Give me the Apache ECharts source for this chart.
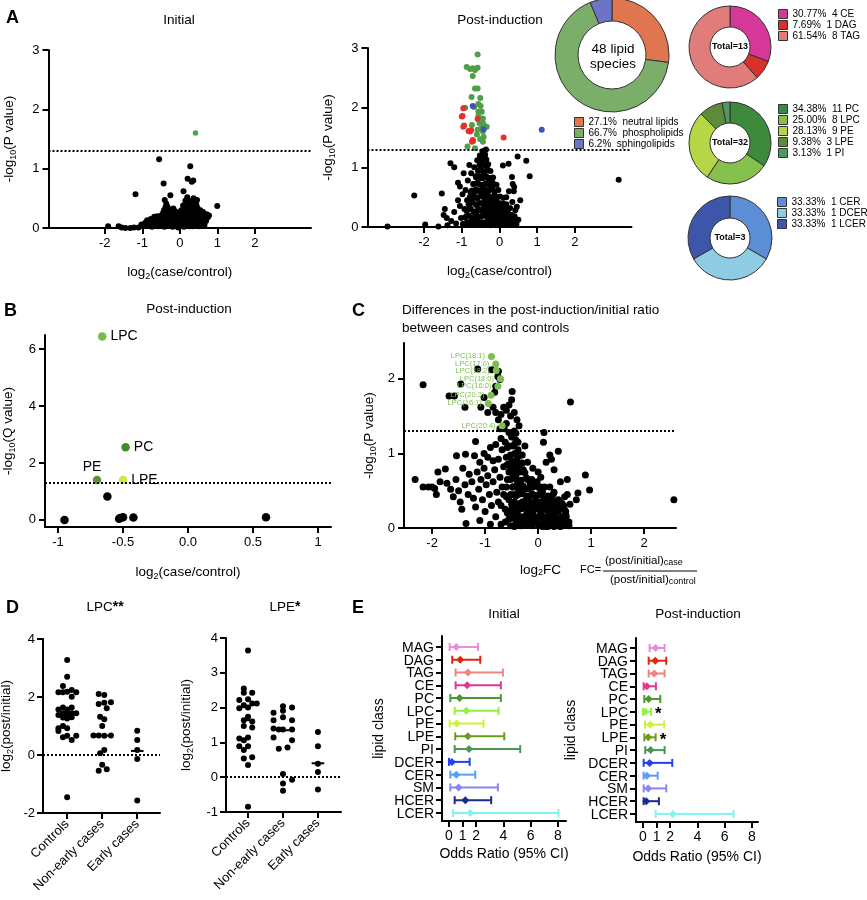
<!DOCTYPE html>
<html>
<head>
<meta charset="utf-8">
<script src="https://cdn.jsdelivr.net/npm/echarts@6/dist/echarts.min.js"></script>
<style>
html, body { margin: 0; padding: 0; background: #fff; }
#chart { width: 867px; height: 900px; }
</style>
</head>
<body>
<div id="chart"></div>
<script>
'use strict';

// ---------- A: volcano plots (log2 FC, -log10 P) ----------
const pThreshold = 1.3;

const initialBlack = [
  [-1.91,0.03],[-1.63,0.03],[-1.55,0.01],[-1.45,0.0],[-1.32,0.0],[-1.22,0.01],[-1.18,0.57],[-1.1,0.01],
  [-1.02,0.06],[-0.97,0.03],[-0.92,0.09],[-0.87,0.13],[-0.84,0.04],[-0.8,0.08],[-0.77,0.15],[-0.74,0.02],
  [-0.72,0.11],[-0.68,0.19],[-0.66,0.06],[-0.62,0.14],[-0.6,0.2],[-0.58,0.03],[-0.55,1.16],[-0.55,0.1],
  [-0.53,0.17],[-0.5,0.05],[-0.48,0.22],[-0.46,0.12],[-0.43,0.75],[-0.42,0.3],[-0.41,0.02],[-0.4,0.47],
  [-0.38,0.18],[-0.37,0.08],[-0.36,0.41],[-0.35,0.27],[-0.33,0.36],[-0.32,0.13],[-0.3,0.04],[-0.28,0.22],
  [-0.27,0.31],[-0.25,0.55],[-0.24,0.1],[-0.22,0.17],[-0.2,0.26],[-0.19,0.02],[-0.17,0.33],[-0.16,0.13],
  [-0.14,0.07],[-0.13,0.21],[-0.11,0.28],[-0.1,0.03],[-0.08,0.15],[-0.07,0.09],[-0.05,0.2],[-0.04,0.01],
  [-0.02,0.12],[0.0,0.25],[0.01,0.05],[0.03,0.17],[0.04,0.3],[0.06,0.09],[0.08,0.21],[0.09,0.38],
  [0.1,0.62],[0.11,0.02],[0.12,0.14],[0.13,0.28],[0.15,0.46],[0.16,0.07],[0.17,0.2],[0.19,0.33],
  [0.2,0.52],[0.21,0.83],[0.22,0.11],[0.23,0.25],[0.24,0.4],[0.26,0.03],[0.27,0.18],[0.28,1.04],
  [0.29,0.31],[0.3,0.45],[0.31,0.12],[0.32,0.78],[0.33,0.24],[0.34,0.37],[0.36,0.8],[0.36,0.06],
  [0.37,0.5],[0.38,0.16],[0.4,0.29],[0.41,0.42],[0.43,0.09],[0.44,0.21],[0.46,0.47],[0.47,0.34],
  [0.49,0.14],[0.5,0.03],[0.52,0.26],[0.54,0.19],[0.56,0.08],[0.58,0.22],[0.6,0.13],[0.62,0.27],
  [0.64,0.17],[0.66,0.05],[0.68,0.2],[0.7,0.12],[0.72,0.23],[0.75,0.18],[0.78,0.21],[1.0,0.37],
  [-0.46,0.06],[-0.37,0.04],[-0.26,0.07],[-0.16,0.04],[-0.06,0.06],[0.04,0.04],[0.14,0.06],[0.24,0.05],
  [0.34,0.03],[0.44,0.05],[0.54,0.04],[0.63,0.07],[-0.43,0.14],[-0.31,0.12],[-0.21,0.14],[-0.11,0.11],
  [-0.01,0.13],[0.07,0.12],[0.18,0.13],[0.27,0.11],[0.37,0.13],[0.47,0.1],[0.57,0.14],[0.67,0.12],
  [-0.39,0.22],[-0.29,0.19],[-0.19,0.21],[-0.09,0.19],[0.02,0.2],[0.11,0.22],[0.21,0.18],[0.31,0.2],
  [0.42,0.22],[0.51,0.19],[0.61,0.21],[0.71,0.18],[-0.33,0.28],[-0.23,0.26],[-0.12,0.25],[0.05,0.27],
  [0.14,0.26],[0.25,0.29],[0.35,0.27],[0.45,0.28],[0.55,0.3],[0.12,0.36],[0.22,0.35],[0.3,0.37],
  [0.39,0.35],[0.44,0.4],[0.26,0.44],[-0.38,0.35],[-0.44,0.26]
];
const initialGreen = [[0.42,1.6]];

const postBlack = [
  [-2.97,0.01],[-2.26,0.53],[-1.97,0.04],[-1.62,0.01],[-1.53,0.56],[-1.45,0.3],[-1.48,0.2],[-1.4,0.15],
  [-1.38,0.03],[-1.3,1.07],[-1.2,1.0],[-1.28,0.1],[-1.2,0.25],[-1.15,0.06],[-1.1,0.74],[-1.05,0.68],
  [-1.1,0.45],[-1.05,0.35],[-1.02,0.15],[-0.98,0.55],[-0.97,0.05],[-0.95,0.9],[-0.93,0.3],[-0.9,0.62],
  [-0.88,0.18],[-0.86,0.45],[-0.84,0.78],[-0.82,0.05],[-0.8,1.04],[-0.79,0.33],[-0.77,0.58],[-0.75,0.9],
  [-0.74,0.12],[-0.72,0.47],[-0.7,0.72],[-0.69,0.25],[-0.67,1.0],[-0.66,0.04],[-0.64,0.6],[-0.63,0.85],
  [-0.62,0.38],[-0.6,0.16],[-0.59,1.12],[-0.58,0.5],[-0.56,0.72],[-0.55,0.28],[-0.54,0.95],[-0.53,0.08],
  [-0.52,1.2],[-0.51,0.62],[-0.5,0.4],[-0.49,0.82],[-0.48,0.18],[-0.47,1.05],[-0.46,0.55],[-0.45,1.27],
  [-0.44,0.3],[-0.43,0.7],[-0.42,0.92],[-0.41,0.05],[-0.4,1.15],[-0.39,0.45],[-0.38,0.62],[-0.37,0.22],
  [-0.36,1.3],[-0.35,0.85],[-0.34,1.02],[-0.33,0.35],[-0.32,0.55],[-0.31,0.12],[-0.3,0.75],[-0.29,0.95],
  [-0.28,0.42],[-0.27,0.25],[-0.26,0.62],[-0.25,0.03],[-0.24,0.82],[-0.22,0.5],[-0.21,0.33],[-0.2,0.15],
  [-0.18,0.68],[-0.17,0.42],[-0.16,0.26],[-0.15,0.05],[-0.13,0.55],[-0.12,0.35],[-0.1,0.18],[-0.08,0.45],
  [-0.07,0.08],[-0.05,0.3],[-0.03,0.22],[-0.01,0.4],[0.0,0.1],[0.02,0.28],[0.04,0.15],[0.06,0.35],
  [0.08,0.05],[0.09,1.03],[0.1,0.22],[0.12,0.3],[0.14,0.12],[0.16,0.18],[0.18,0.5],[0.2,0.08],
  [0.22,0.25],[0.24,1.06],[0.25,0.15],[0.28,0.32],[0.3,0.04],[0.32,0.2],[0.34,0.42],[0.36,0.1],
  [0.38,0.6],[0.4,0.18],[0.42,0.28],[0.45,0.05],[0.48,1.18],[0.5,0.12],[0.71,1.11],[0.8,0.85],
  [0.35,0.72],[0.25,0.6],[0.33,0.84],[0.39,0.67],[0.55,0.45],[0.46,0.34],[0.44,0.11],[3.16,0.79],
  [-0.96,0.04],[-0.86,0.08],[-0.76,0.05],[-0.64,0.09],[-0.54,0.05],[-0.44,0.08],[-0.34,0.05],[-0.24,0.09],
  [-0.14,0.06],[-0.04,0.03],[0.06,0.07],[0.16,0.04],[0.26,0.08],[0.36,0.05],[-0.91,0.16],[-0.81,0.19],
  [-0.71,0.15],[-0.61,0.2],[-0.51,0.17],[-0.41,0.19],[-0.31,0.16],[-0.21,0.2],[-0.11,0.15],[-0.01,0.18],
  [0.09,0.16],[0.19,0.2],[0.29,0.15],[-0.87,0.27],[-0.76,0.3],[-0.66,0.26],[-0.56,0.3],[-0.46,0.27],
  [-0.36,0.3],[-0.26,0.28],[-0.16,0.31],[-0.06,0.26],[0.04,0.29],[0.14,0.27],[0.24,0.3],[-0.82,0.38],
  [-0.72,0.41],[-0.62,0.37],[-0.52,0.4],[-0.42,0.38],[-0.32,0.42],[-0.22,0.39],[-0.12,0.41],[-0.02,0.37],
  [0.08,0.4],[0.18,0.38],[-0.79,0.5],[-0.69,0.52],[-0.59,0.48],[-0.49,0.51],[-0.39,0.49],[-0.29,0.52],
  [-0.19,0.48],[-0.09,0.5],[0.01,0.51],[0.11,0.49],[-0.73,0.61],[-0.63,0.63],[-0.53,0.6],[-0.43,0.62],
  [-0.33,0.6],[-0.23,0.63],[-0.13,0.6],[-0.03,0.62],[-0.68,0.72],[-0.58,0.74],[-0.48,0.71],[-0.38,0.73],
  [-0.28,0.7],[-0.18,0.74],[-0.08,0.71],[-0.62,0.83],[-0.52,0.85],[-0.44,0.82],[-0.36,0.84],[-0.27,0.82],
  [-0.17,0.83],[-0.57,0.94],[-0.49,0.96],[-0.41,0.93],[-0.32,0.95],[-0.24,0.94],[-0.53,1.04],[-0.45,1.06],
  [-0.38,1.03],[-0.3,1.05],[-0.49,1.14],[-0.42,1.16],[-0.35,1.13],[-0.44,1.22],[-0.38,1.21],[-0.4,1.27]
];
const postNeutral = [
  [-0.96,1.99],[-1.0,1.85],[-0.96,1.68],[-0.82,1.61],[-0.78,1.6],[-0.71,1.46],[-0.73,1.43],
  [0.11,1.5],[-0.58,1.81],[-0.75,1.62],[-0.94,1.7],[-0.7,1.44],[-0.98,1.86]
];
const postPhospho = [
  [-0.58,2.89],[-0.87,2.68],[-0.78,2.65],[-0.71,2.66],[-0.65,2.63],[-0.58,2.67],[-0.71,2.53],[-0.65,2.32],
  [-0.58,2.32],[-0.74,2.18],[-0.51,2.16],[-0.91,2.0],[-0.67,2.01],[-0.56,2.06],[-0.5,2.03],[-0.56,1.93],
  [-0.47,1.93],[-0.56,1.85],[-0.44,1.82],[-0.73,1.71],[-0.53,1.74],[-0.43,1.73],[-0.34,1.68],[-0.58,1.63],
  [-0.44,1.6],[-0.42,1.51],[-0.51,1.47],[-0.44,1.43],[-0.85,1.35],[-0.65,1.32],[-0.6,1.55],[-0.48,1.65]
];
const postSphingo = [[-0.71,2.03],[-0.42,1.64],[1.12,1.63]];
const volcanoTicksX = [-2,-1,0,1,2];
const volcanoTicksY = [0,1,2,3];

// ---------- A: donuts ----------
const groupNames = ['neutral lipids','phospholipids','sphingolipids'];
const groupCounts = [13,32,3];
const groupPct = ['27.1%','66.7%','6.2%'];
const groupColors = ['#E07650','#7BAE69','#6C74C6'];

const neutralNames = ['CE','DAG','TAG'];
const neutralCounts = [4,1,8];
const neutralPct = ['30.77%','7.69%','61.54%'];
const neutralColors = ['#D6389A','#D8302A','#E07C7A'];

const phosphoNames = ['PC','LPC','PE','LPE','PI'];
const phosphoCounts = [11,8,9,3,1];
const phosphoPct = ['34.38%','25.00%','28.13%','9.38%','3.13%'];
const phosphoColors = ['#3E8A3D','#86C14B','#B6D547','#5C8C39','#4D9B5A'];

const sphingoNames = ['CER','DCER','LCER'];
const sphingoCounts = [1,1,1];
const sphingoPct = ['33.33%','33.33%','33.33%'];
const sphingoColors = ['#5B8ED4','#8DCCE2','#3E56A9'];

// ---------- B: class-level volcano ----------
const bSigNames = ['LPC','PC','PE','LPE'];
const bSigX = [-0.66,-0.48,-0.7,-0.5];
const bSigY = [6.45,2.55,1.4,1.4];
const bSigColors = ['#78BB4A','#3E8C2A','#5E9034','#C5EC4A'];
const bOther = [[-0.62,0.82],[-0.95,0.0],[-0.53,0.04],[-0.52,0.07],[-0.5,0.09],[-0.42,0.08],[0.6,0.09]];
const bTicksX = [-1,-0.5,0,0.5,1];
const bTickLabelsX = ['-1','-0.5','0.0','0.5','1'];
const bTicksY = [0,2,4,6];

// ---------- C: ratio volcano ----------
const cBlack = [
  [-2.17,1.92],[-1.68,1.77],[-1.58,1.77],[-1.46,1.93],[-1.38,1.62],[-1.14,2.13],[-1.08,1.62],[-1.02,1.75],
  [-0.95,1.55],[-0.88,2.12],[-0.75,2.1],[-0.72,1.99],[-0.76,2.03],[-0.8,1.9],[-0.82,1.82],[-0.85,1.62],
  [-0.8,1.55],[-0.75,1.45],[-0.7,1.52],[-0.65,1.62],[-0.6,1.58],[-0.49,1.83],[-0.5,1.72],[-0.55,1.65],
  [-0.52,1.5],[-0.45,1.55],[-0.4,1.45],[-0.36,1.37],[-0.6,1.4],[-0.64,1.33],[-0.72,1.33],[0.61,1.69],
  [0.11,1.28],[-0.45,1.3],[-0.55,1.28],[-0.5,1.22],[-0.42,1.18],[-0.62,1.15],[-0.7,1.2],[-0.8,1.12],
  [-0.68,1.05],[-0.58,1.08],[-0.48,1.1],[-0.38,1.05],[-0.3,0.98],[-0.25,1.1],[0.1,1.15],[0.22,0.98],
  [0.38,1.03],[0.25,0.92],[0.15,0.88],[0.3,0.78],[-1.18,1.16],[-1.02,1.0],[-0.95,0.95],[-0.9,1.08],
  [-1.2,0.97],[-1.54,0.97],[-1.37,0.99],[-1.1,0.88],[-0.85,0.9],[-0.75,0.92],[-0.6,0.95],[-0.5,0.9],
  [-0.4,0.92],[-0.35,0.85],[-0.2,0.88],[-0.1,0.8],[0.0,0.75],[0.05,0.68],
  [-2.32,0.65],[-2.17,0.55],[-2.07,0.55],[-2.0,0.55],[-1.95,0.53],[-1.89,0.75],[-1.92,0.45],[-1.85,0.62],
  [-1.75,0.79],[-1.72,0.6],[-1.65,0.52],[-1.6,0.42],[-1.55,0.65],[-1.5,0.5],[-1.47,0.35],[-1.44,0.25],
  [-1.42,0.8],[-1.38,0.58],[-1.36,0.06],[-1.32,0.45],[-1.3,0.72],[-1.25,0.62],[-1.22,0.4],[-1.18,0.28],
  [-1.15,0.75],[-1.12,0.52],[-1.1,0.1],[-1.08,0.65],[-1.05,0.38],[-1.02,0.8],[-1.0,0.22],[-0.98,0.58],
  [-0.95,0.7],[-0.92,0.45],[-0.9,0.05],[-0.88,0.3],[-0.85,0.62],[-0.82,0.78],[-0.8,0.15],[-0.78,0.48],
  [-0.75,0.35],[-0.72,0.68],[-0.7,0.05],[-0.68,0.55],[-0.65,0.82],[-0.62,0.25],[-0.6,0.42],[-0.58,0.65],
  [-0.55,0.12],[-0.52,0.78],[-0.5,0.32],[-0.48,0.55],[-0.45,0.02],[-0.42,0.7],[-0.4,0.2],[-0.38,0.45],
  [-0.35,0.62],[-0.32,0.08],[-0.3,0.35],[-0.28,0.78],[-0.25,0.52],[-0.22,0.18],[-0.2,0.65],[-0.18,0.4],
  [-0.15,0.05],[-0.12,0.28],[-0.1,0.55],[-0.08,0.15],[-0.05,0.42],[-0.02,0.62],[0.0,0.25],[0.02,0.05],
  [0.05,0.35],[0.08,0.5],[0.1,0.15],[0.12,0.28],[0.15,0.02],[0.18,0.42],[0.2,0.2],[0.22,0.55],
  [0.25,0.1],[0.28,0.32],[0.3,0.48],[0.32,0.05],[0.35,0.22],[0.38,0.38],[0.4,0.12],[0.42,0.62],
  [0.45,0.28],[0.48,0.05],[0.5,0.42],[0.52,0.18],[0.55,0.65],[0.58,0.08],[0.6,0.32],[0.55,0.45],
  [0.89,0.71],[0.97,0.51],[0.75,0.47],[0.72,0.38],[2.56,0.38],
  [-0.55,0.38],[-0.5,0.18],[-0.45,0.45],[-0.42,0.3],[-0.38,0.12],[-0.35,0.25],[-0.32,0.48],[-0.28,0.15],
  [-0.25,0.3],[-0.22,0.05],[-0.2,0.42],[-0.18,0.22],[-0.15,0.35],[-0.12,0.1],[-0.1,0.45],[-0.08,0.28],
  [-0.05,0.08],[-0.02,0.35],[0.0,0.15],[0.02,0.45],[0.05,0.22],[0.08,0.02],[0.1,0.38],[0.12,0.12],
  [0.15,0.25],[0.18,0.05],[0.2,0.35],[0.22,0.12],[0.25,0.4],[0.28,0.18],[0.3,0.02],[0.32,0.28],
  [0.35,0.1],[0.38,0.22],[0.4,0.35],[0.42,0.02],[0.45,0.15],[0.48,0.3],[0.5,0.08],[0.52,0.22],
  [-0.3,0.55],[-0.15,0.6],[0.05,0.55],[-0.4,0.58],[-0.6,0.55],[-0.65,0.45],[-0.7,0.3],[-0.58,0.2],
  [-0.62,0.08],[-0.48,0.68],[-0.55,0.85],[-0.45,0.8],[-0.35,0.75],
  [-0.52,0.03],[-0.42,0.06],[-0.32,0.03],[-0.22,0.07],[-0.12,0.03],[-0.02,0.06],[0.08,0.08],[0.18,0.02],
  [0.28,0.06],[0.38,0.03],[0.48,0.07],[0.58,0.03],[-0.47,0.13],[-0.37,0.16],[-0.27,0.12],[-0.17,0.15],
  [-0.07,0.12],[0.03,0.16],[0.13,0.13],[0.23,0.16],[0.33,0.14],[0.43,0.12],[0.53,0.15],[-0.5,0.25],
  [-0.4,0.23],[-0.3,0.26],[-0.2,0.24],[-0.1,0.22],[0.0,0.26],[0.1,0.24],[0.2,0.27],[0.3,0.23],
  [0.4,0.26],[0.5,0.24],[-0.45,0.35],[-0.35,0.33],[-0.25,0.36],[-0.15,0.32],[-0.05,0.36],[0.05,0.33],
  [0.15,0.36],[0.25,0.32],[0.35,0.35],[0.45,0.33],[-0.52,0.45],[-0.42,0.43],[-0.32,0.46],[-0.22,0.43],
  [-0.12,0.46],[-0.02,0.44],[0.08,0.46],[0.18,0.43],[0.28,0.45],[-0.48,0.55],[-0.38,0.53],[-0.28,0.56],
  [-0.18,0.53],[-0.08,0.56],[0.02,0.54],[0.12,0.55],[-0.52,0.65],[-0.42,0.66],[-0.32,0.64],[-0.22,0.67],
  [-0.12,0.65],[-0.55,0.75],[-0.45,0.73],[-0.38,0.77],[-0.25,0.74],[-0.58,0.85],[-0.48,0.86],[-0.4,0.84],
  [-0.3,0.87],[-0.52,0.98],[-0.44,1.0],[-0.36,0.97],[-0.55,1.1],[-0.45,1.12],[-0.38,1.15],[-0.5,1.25],
  [-0.42,1.27]
];
const cLpcNames = ['LPC(18:1)','LPC(17:0)','LPC(18:2)','LPC(18:0)','LPC(16:0)','LPC(20:3)','LPC(16:1)','LPC(20:4)'];
const cLpcX = [-0.88,-0.8,-0.79,-0.71,-0.76,-0.89,-0.94,-0.68];
const cLpcY = [2.3,2.2,2.11,2.0,1.9,1.78,1.67,1.37];
const cTicksX = [-2,-1,0,1,2];
const cTicksY = [0,1,2];

// ---------- D: per-group log2(post/initial) ----------
const groups = ['Controls','Non-early cases','Early cases'];
// [group position (index + read offset), value]
const lpcPoints = [
  [0,3.28],[0,2.7],[-0.12,2.38],[-0.25,2.16],[-0.12,2.16],[0,2.18],[0.13,2.24],[0.26,2.16],[0.13,2.01],
  [-0.25,1.57],[-0.12,1.64],[0,1.57],[0.13,1.64],[-0.25,1.38],[-0.12,1.44],[0,1.4],[0.13,1.44],[0.26,1.44],
  [-0.12,1.29],[0,1.26],[0.13,1.3],[-0.25,0.92],[-0.12,1.0],[0,0.92],[-0.25,0.83],[-0.12,0.61],[0,0.66],
  [0.13,0.52],[0.26,0.66],[0,-1.46],
  [0.9,2.1],[1.06,2.07],[0.9,1.76],[1.06,1.8],[1.25,1.82],[1.13,1.61],[0.94,1.32],[1.06,1.23],[1,1.0],
  [0.75,0.67],[0.9,0.67],[1.06,0.66],[1.25,0.67],[1.06,0.17],[0.94,0.06],[1,-0.34],[0.9,-0.54],[1.13,-0.49],
  [2,0.84],[2,0.52],[2,0.17],[2,-0.14],[2,-1.57]
];
const lpcMedians = [1.42,0.67,0.14];
const lpePoints = [
  [0,3.64],[-0.12,2.55],[-0.12,2.43],[0.12,2.43],[-0.25,2.22],[0,2.24],[0.12,2.12],[0.25,2.12],[-0.25,1.98],
  [-0.12,2.07],[0,2.0],[0,1.74],[-0.12,1.64],[0.12,1.6],[-0.12,1.47],[0.12,1.43],[-0.25,1.11],[-0.12,1.06],
  [0,1.14],[-0.25,0.89],[0,0.89],[-0.12,0.78],[-0.12,0.54],[0.12,0.57],[0,0.35],[0,-0.85],
  [1,2.04],[1.26,2.0],[0.73,1.85],[1,1.91],[0.73,1.64],[1,1.72],[1.26,1.64],[0.73,1.4],[0.88,1.37],
  [1,1.37],[1.26,1.37],[0.73,1.14],[1.26,1.06],[0.88,0.82],[1.13,0.85],[1,0.09],[1.26,-0.07],[1,-0.18],[1,-0.39],
  [2,1.3],[2,0.89],[2,0.39],[2,0.15],[2,-0.35]
];
const lpeMedians = [1.64,1.35,0.4];

// ---------- E: odds ratios ----------
const lipidClasses = ['MAG','DAG','TAG','CE','PC','LPC','PE','LPE','PI','DCER','CER','SM','HCER','LCER'];
const classColors = ['#E98CDC','#E5240E','#EE8580','#E3368C','#4B982E','#95F040','#CFF240','#6E9A1F',
  '#4B9657','#2140F6','#5B9DF4','#8686F4','#1B2A8E','#82F2F2'];
const initOR   = [0.54,0.83,1.39,1.34,0.78,1.27,0.56,1.39,1.47,0.22,0.54,0.71,1.2,1.56];
const initLow  = [0.05,0.24,0.49,0.49,0.1,0.42,0.05,0.46,0.42,0.0,0.1,0.1,0.42,0.29];
const initHigh = [2.13,2.3,3.96,3.81,3.81,3.64,2.54,4.06,5.23,1.52,1.93,3.59,3.1,8.04];
const postOR   = [0.93,0.9,0.83,0.29,0.42,0.17,0.54,0.39,0.56,0.49,0.29,0.39,0.24,2.2];
const postLow  = [0.49,0.42,0.42,0.05,0.1,0.0,0.15,0.1,0.17,0.05,0.05,0.05,0.05,0.93];
const postHigh = [1.59,1.71,1.59,0.95,1.27,0.59,1.56,0.93,1.59,2.15,1.08,1.71,1.17,6.65];
const postSignificant = ['LPC','LPE'];
const orTicks = [0,1,2,4,6,8];

// ---------- helpers ----------
const FONT = 'Liberation Sans, Arial, Helvetica, sans-serif';
const subRich = {
  s: {fontSize: 9, lineHeight: 9, verticalAlign: 'bottom', fontFamily: FONT, color: '#000'}
};

function axis(gridIndex, min, max, ticks, o) {
  o = o || {};
  const a = {
    type: 'value', gridIndex: gridIndex, min: min, max: max, inverse: !!o.inverse,
    splitLine: {show: false},
    axisLine: {show: true, onZero: false, lineStyle: {color: '#000', width: 2}},
    axisTick: {show: true, customValues: ticks, length: o.tickLen || 6, lineStyle: {color: '#000', width: 2}},
    axisLabel: {show: o.hideLabels ? false : true, customValues: ticks, color: '#000', fontSize: o.fontSize || 13,
      fontFamily: FONT, margin: o.margin || 9, rotate: o.rotate || 0, showMinLabel: true, showMaxLabel: true},
    name: o.name || '', nameLocation: 'middle', nameGap: o.nameGap || 30,
    nameTextStyle: {color: '#000', fontSize: o.nameSize || 13.5, fontFamily: FONT, lineHeight: 18, rich: subRich}
  };
  if (o.fmt) a.axisLabel.formatter = o.fmt;
  return a;
}

function thresholdLine(y) {
  return {
    silent: true, symbol: 'none', label: {show: false},
    lineStyle: {type: 'dotted', color: '#000', width: 2},
    data: [{yAxis: y}]
  };
}

function dots(xi, yi, data, color, size, extra) {
  return Object.assign({
    type: 'scatter', xAxisIndex: xi, yAxisIndex: yi, data: data,
    symbolSize: size, itemStyle: {color: color, opacity: 1}, silent: true, z: 3
  }, extra || {});
}

function donut(name, center, radius, names, counts, colors) {
  return {
    type: 'pie', name: name, center: center, radius: radius, silent: true,
    startAngle: 90, clockwise: true, label: {show: false}, labelLine: {show: false},
    itemStyle: {borderColor: '#333', borderWidth: 1},
    data: names.map((n, i) => ({name: n, value: counts[i], itemStyle: {color: colors[i]}}))
  };
}

function donutLegend(names, pct, counts, left, top, withCount) {
  return {
    orient: 'vertical', left: left, top: top, icon: 'rect', itemWidth: 9, itemHeight: 9,
    itemGap: 1, padding: 0, selectedMode: false, data: names,
    itemStyle: {borderColor: '#333', borderWidth: 1},
    textStyle: {fontSize: 10, lineHeight: 10, color: '#000', fontFamily: FONT},
    formatter: function (n) {
      const i = names.indexOf(n);
      return withCount ? pct[i] + '  ' + counts[i] + ' ' + n : pct[i] + '  ' + n;
    }
  };
}

function medianSeries(xi, yi, medians, half) {
  return {
    type: 'custom', xAxisIndex: xi, yAxisIndex: yi, silent: true, z: 4,
    data: medians.map((m, i) => [i, m]),
    renderItem: function (params, api) {
      const a = api.coord([api.value(0) - half, api.value(1)]);
      const b = api.coord([api.value(0) + half, api.value(1)]);
      return {type: 'line', shape: {x1: a[0], y1: a[1], x2: b[0], y2: b[1]},
        style: {stroke: '#000', lineWidth: 2}};
    }
  };
}

// error bars + class name at the left of the axis (value axis labels get thinned out when crowded)
function oddsSeries(xi, yi, lo, hi, pt, sig) {
  return {
    type: 'custom', xAxisIndex: xi, yAxisIndex: yi, silent: true, z: 4, clip: false,
    data: lipidClasses.map((c, i) => [lo[i], hi[i], pt[i], i]),
    renderItem: function (params, api) {
      const row = api.value(3);
      const color = classColors[row];
      const a = api.coord([api.value(0), row]);
      const b = api.coord([api.value(1), row]);
      const p = api.coord([api.value(2), row]);
      const cap = 4, d = 4;
      const children = [
        {type: 'line', shape: {x1: a[0], y1: a[1], x2: b[0], y2: b[1]}, style: {stroke: color, lineWidth: 2}},
        {type: 'line', shape: {x1: a[0], y1: a[1] - cap, x2: a[0], y2: a[1] + cap}, style: {stroke: color, lineWidth: 2}},
        {type: 'line', shape: {x1: b[0], y1: b[1] - cap, x2: b[0], y2: b[1] + cap}, style: {stroke: color, lineWidth: 2}},
        {type: 'polygon', shape: {points: [[p[0], p[1] - d], [p[0] + d, p[1]], [p[0], p[1] + d], [p[0] - d, p[1]]]},
          style: {fill: color}},
        {type: 'text', x: params.coordSys.x - 8, y: p[1] + 1,
          style: {text: lipidClasses[row], fontSize: 14, fontFamily: FONT, fill: '#000',
            align: 'right', verticalAlign: 'middle'}}
      ];
      if (sig && sig.indexOf(lipidClasses[row]) >= 0) {
        children.push({type: 'text', x: b[0] + 4, y: b[1] + 3,
          style: {text: '*', fontSize: 17, fontWeight: 'bold', fontFamily: FONT, fill: '#000',
            align: 'left', verticalAlign: 'middle'}});
      }
      return {type: 'group', children: children};
    }
  };
}

function txt(x, y, text, size, o) {
  o = o || {};
  return {
    type: 'text', x: x, y: y, silent: true,
    style: Object.assign({text: text, fontSize: size, fontFamily: FONT, fill: '#000',
      align: o.align || 'center', verticalAlign: o.va || 'middle', fontWeight: o.bold ? 'bold' : 'normal'},
      o.rich ? {rich: o.rich} : {})
  };
}

// ---------- chart ----------
const chart = echarts.init(document.getElementById('chart'), null, {renderer: 'canvas'});

const grids = [
  {left: 48.5, top: 50, width: 262.5, height: 178},   // 0 A initial
  {left: 367.5, top: 48, width: 264, height: 179},    // 1 A post
  {left: 45, top: 335, width: 286, height: 192},      // 2 B
  {left: 404, top: 343, width: 272, height: 185},     // 3 C
  {left: 43, top: 639, width: 117, height: 174},      // 4 D LPC
  {left: 226, top: 638, width: 115, height: 174},     // 5 D LPE
  {left: 442, top: 636, width: 124, height: 185},     // 6 E initial
  {left: 636, top: 638, width: 122, height: 184}      // 7 E post
].map(g => Object.assign({outerBoundsMode: 'none', containLabel: false}, g));

const log2Name = 'log{s|2}(case/control)';
const pName = '-log{s|10}(P value)';

const xAxes = [
  axis(0, -3.5, 3.5, volcanoTicksX, {name: log2Name, nameGap: 35}),
  axis(1, -3.5, 3.5, volcanoTicksX, {name: log2Name, nameGap: 35}),
  axis(2, -1.1, 1.1, bTicksX, {name: log2Name, nameGap: 36,
    fmt: v => bTickLabelsX[bTicksX.indexOf(v)]}),
  axis(3, -2.53, 2.6, cTicksX, {}),
  axis(4, -0.69, 2.65, [0, 1, 2], {rotate: 45, margin: 9, fmt: v => groups[v]}),
  axis(5, -0.63, 2.66, [0, 1, 2], {rotate: 45, margin: 9, fmt: v => groups[v]}),
  axis(6, -0.51, 8.59, orTicks, {name: 'Odds Ratio (95% CI)', nameGap: 24, fontSize: 14, margin: 8, nameSize: 14}),
  axis(7, -0.51, 8.44, orTicks, {name: 'Odds Ratio (95% CI)', nameGap: 26, fontSize: 14, margin: 8, nameSize: 14})
];
const classIdx = lipidClasses.map((c, i) => i);
const yAxes = [
  axis(0, 0, 3, volcanoTicksY, {name: pName, nameGap: 30}),
  axis(1, 0, 3, volcanoTicksY, {name: pName, nameGap: 30}),
  axis(2, -0.25, 6.5, bTicksY, {name: '-log{s|10}(Q value)', nameGap: 28}),
  axis(3, 0, 2.48, cTicksY, {name: pName, nameGap: 26}),
  axis(4, -2, 4, [-2, 0, 2, 4], {name: 'log{s|2}(post/initial)', nameGap: 28, margin: 8}),
  axis(5, -1, 4, [-1, 0, 1, 2, 3, 4], {name: 'log{s|2}(post/initial)', nameGap: 31, margin: 8}),
  axis(6, -0.86, 13.63, classIdx, {inverse: true, name: 'lipid class', nameGap: 54, nameSize: 14, hideLabels: true}),
  axis(7, -0.78, 13.63, classIdx, {inverse: true, name: 'lipid class', nameGap: 56, nameSize: 14, hideLabels: true})
];

const series = [
  // A initial
  dots(0, 0, initialBlack, '#000', 6, {markLine: thresholdLine(pThreshold)}),
  dots(0, 0, initialGreen, '#4FA34A', 5.5),
  // A post-induction
  dots(1, 1, postBlack, '#000', 6, {markLine: thresholdLine(pThreshold)}),
  dots(1, 1, postPhospho, '#4E9F48', 6, {z: 4}),
  dots(1, 1, postNeutral, '#E3322B', 6, {z: 4}),
  dots(1, 1, postSphingo, '#3C54B8', 6, {z: 4}),
  // donuts
  donut('groups', [612, 55], [34, 57], groupNames, groupCounts, groupColors),
  donut('neutral', [730, 47], [20, 41], neutralNames, neutralCounts, neutralColors),
  donut('phospho', [730, 143], [20, 41], phosphoNames, phosphoCounts, phosphoColors),
  donut('sphingo', [730, 238], [20, 42], sphingoNames, sphingoCounts, sphingoColors),
  // B
  dots(2, 2, bOther, '#000', 8.5, {markLine: thresholdLine(pThreshold)}),
  dots(2, 2, bSigNames.map((n, i) => ({
    value: [bSigX[i], bSigY[i]], name: n, itemStyle: {color: bSigColors[i]},
    label: n === 'PE' ? {position: 'top', offset: [-5, 1], distance: 3} : {position: 'right', distance: 4}
  })), '#000', 8.5, {
    z: 4,
    label: {show: true, formatter: '{b}', fontSize: 14, fontFamily: FONT, color: '#000'}
  }),
  // C
  dots(3, 3, cBlack, '#000', 7, {markLine: thresholdLine(pThreshold)}),
  dots(3, 3, cLpcNames.map((n, i) => ({value: [cLpcX[i], cLpcY[i]], name: n})), '#7CBF4F', 7, {
    z: 4,
    label: {show: true, position: 'left', distance: 3, formatter: '{b}', fontSize: 7.5,
      fontFamily: FONT, color: '#7CBF4F'}
  }),
  // D
  dots(4, 4, lpcPoints, '#000', 6, {markLine: thresholdLine(0)}),
  medianSeries(4, 4, lpcMedians, 0.18),
  dots(5, 5, lpePoints, '#000', 6, {markLine: thresholdLine(0)}),
  medianSeries(5, 5, lpeMedians, 0.18),
  // E
  oddsSeries(6, 6, initLow, initHigh, initOR, null),
  oddsSeries(7, 7, postLow, postHigh, postOR, postSignificant)
];

const graphics = [
  txt(6, 18, 'A', 18, {align: 'left', bold: true}),
  txt(4, 311, 'B', 18, {align: 'left', bold: true}),
  txt(352, 311, 'C', 18, {align: 'left', bold: true}),
  txt(6, 608, 'D', 18, {align: 'left', bold: true}),
  txt(352, 608, 'E', 18, {align: 'left', bold: true}),
  txt(179, 20, 'Initial', 13.5),
  txt(500, 20, 'Post-induction', 13.5),
  txt(189, 309, 'Post-induction', 13.5),
  txt(402, 310, 'Differences in the post-induction/initial ratio', 13.5, {align: 'left'}),
  txt(402, 328, 'between cases and controls', 13.5, {align: 'left'}),
  txt(105, 607, '{n|LPC}{b|**}', 13.5, {rich: {n: {fontSize: 13.5, fontFamily: FONT},
    b: {fontSize: 14, fontWeight: 'bold', fontFamily: FONT}}}),
  txt(285, 607, '{n|LPE}{b|*}', 13.5, {rich: {n: {fontSize: 13.5, fontFamily: FONT},
    b: {fontSize: 14, fontWeight: 'bold', fontFamily: FONT}}}),
  txt(504, 614, 'Initial', 13.5),
  txt(698, 614, 'Post-induction', 13.5),
  // donut centre labels
  txt(613, 49, '48 lipid', 13.5),
  txt(613, 64, 'species', 13.5),
  txt(730, 47, 'Total=13', 9, {bold: true}),
  txt(730, 143, 'Total=32', 9, {bold: true}),
  txt(730, 238, 'Total=3', 9, {bold: true}),
  // C x-axis label with FC formula
  txt(520, 570, 'log{s|2}FC', 13.5, {align: 'left', rich: subRich}),
  txt(580, 570, 'FC=', 11, {align: 'left'}),
  txt(605, 561, '(post/initial){s|case}', 11.5, {align: 'left', rich: subRich}),
  txt(610, 580, '(post/initial){s|control}', 11.5, {align: 'left', rich: subRich}),
  {type: 'line', silent: true, shape: {x1: 603, y1: 571, x2: 697, y2: 571}, style: {stroke: '#000', lineWidth: 1}}
];

chart.setOption({
  animation: false,
  backgroundColor: '#fff',
  textStyle: {fontFamily: FONT, color: '#000'},
  grid: grids,
  xAxis: xAxes,
  yAxis: yAxes,
  legend: [
    donutLegend(groupNames, groupPct, groupCounts, 574, 117, false),
    donutLegend(neutralNames, neutralPct, neutralCounts, 778, 9, true),
    donutLegend(phosphoNames, phosphoPct, phosphoCounts, 778, 104, true),
    donutLegend(sphingoNames, sphingoPct, sphingoCounts, 777, 197, true)
  ],
  series: series,
  graphic: {elements: graphics}
});
</script>
</body>
</html>
